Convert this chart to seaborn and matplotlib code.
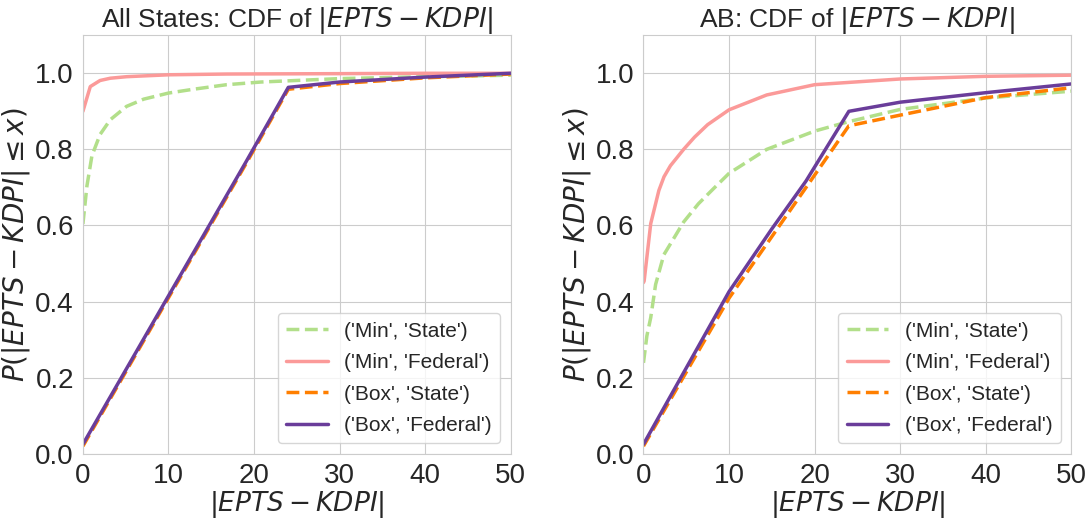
import pandas as pd
import matplotlib
matplotlib.use('Agg')
import matplotlib.pyplot as plt
import seaborn as sns

# Значения: x = |EPTS - KDPI|, y = P(|EPTS - KDPI| <= x)

# All States
all_min_state_x = [0, 0.47, 1.05, 2.0, 3.2, 5.1, 7.1, 10, 12.9, 16.8, 20.8, 30, 40, 50]
all_min_state_y = [0.604, 0.704, 0.783, 0.839, 0.878, 0.913, 0.932, 0.948, 0.958, 0.970, 0.977, 0.986, 0.991, 0.995]
all_min_fed_x = [0, 0.86, 2.0, 3.2, 5.1, 10, 16.8, 30, 40, 50]
all_min_fed_y = [0.90, 0.965, 0.981, 0.987, 0.991, 0.996, 0.998, 0.999, 1.0, 1.0]
all_box_state_x = [0, 10, 19, 24, 30, 40, 50]
all_box_state_y = [0.02, 0.41, 0.76, 0.958, 0.973, 0.988, 0.998]
all_box_fed_x = [0, 10, 19, 24, 30, 40, 50]
all_box_fed_y = [0.025, 0.415, 0.765, 0.963, 0.977, 0.99, 1.0]

# AB
ab_min_state_x = [0, 0.4, 0.85, 1.42, 2.38, 3.54, 4.69, 6.42, 8.15, 10, 14.4, 20, 24, 30, 40, 50]
ab_min_state_y = [0.239, 0.31, 0.358, 0.445, 0.523, 0.566, 0.609, 0.657, 0.696, 0.737, 0.80, 0.848, 0.873, 0.905, 0.935, 0.953]
ab_min_fed_x = [0, 0.08, 0.85, 1.8, 2.4, 3.15, 4.69, 5.96, 7.5, 10, 14.4, 20, 30, 40, 50]
ab_min_fed_y = [0.45, 0.454, 0.605, 0.692, 0.728, 0.757, 0.80, 0.832, 0.865, 0.904, 0.943, 0.97, 0.985, 0.992, 0.995]
ab_box_state_x = [0, 10, 19, 24, 30, 40, 50]
ab_box_state_y = [0.02, 0.409, 0.70, 0.862, 0.89, 0.936, 0.962]
ab_box_fed_x = [0, 10, 15, 19, 24, 30, 40, 50]
ab_box_fed_y = [0.025, 0.426, 0.591, 0.717, 0.90, 0.924, 0.949, 0.972]

labels = ["('Min', 'State')", "('Min', 'Federal')", "('Box', 'State')", "('Box', 'Federal')"]
colors = ['#b2df8a', '#fb9a99', '#ff7f00', '#6a3d9a']
styles = ['--', '-', '--', '-']

panels = [
    ('All States', [(all_min_state_x, all_min_state_y), (all_min_fed_x, all_min_fed_y),
                    (all_box_state_x, all_box_state_y), (all_box_fed_x, all_box_fed_y)]),
    ('AB', [(ab_min_state_x, ab_min_state_y), (ab_min_fed_x, ab_min_fed_y),
            (ab_box_state_x, ab_box_state_y), (ab_box_fed_x, ab_box_fed_y)]),
]

sns.set_style('whitegrid')
plt.rcParams['font.family'] = ['Liberation Sans', 'DejaVu Sans']
plt.rcParams['mathtext.fontset'] = 'dejavusans'

fig, axes = plt.subplots(1, 2, figsize=(10.91, 5.18), dpi=100)
fig.subplots_adjust(left=0.076, right=0.982, bottom=0.124, top=0.932, wspace=0.31)

for ax, (name, series) in zip(axes, panels):
    for (xs, ys), lab, col, ls in zip(series, labels, colors, styles):
        df = pd.DataFrame({'x': xs, 'y': ys})
        sns.lineplot(data=df, x='x', y='y', ax=ax, color=col, linestyle=ls,
                     linewidth=2.5, label=lab)
    ax.set_xlim(0, 50)
    ax.set_ylim(0, 1.1)
    ax.set_xticks([0, 10, 20, 30, 40, 50])
    ax.set_yticks([0.0, 0.2, 0.4, 0.6, 0.8, 1.0])
    ax.tick_params(labelsize=20, pad=3)
    ax.set_xlabel(r'$|EPTS - KDPI|$', fontsize=19, labelpad=0)
    ax.set_ylabel(r'$P(|EPTS - KDPI| \leq x)$', fontsize=20, labelpad=2)
    ax.set_title(name + r': CDF of $|EPTS - KDPI|$', fontsize=19)
    ax.legend(loc='lower right', fontsize=15, frameon=True, labelspacing=0.6)

plt.savefig('out.png', dpi=100)
